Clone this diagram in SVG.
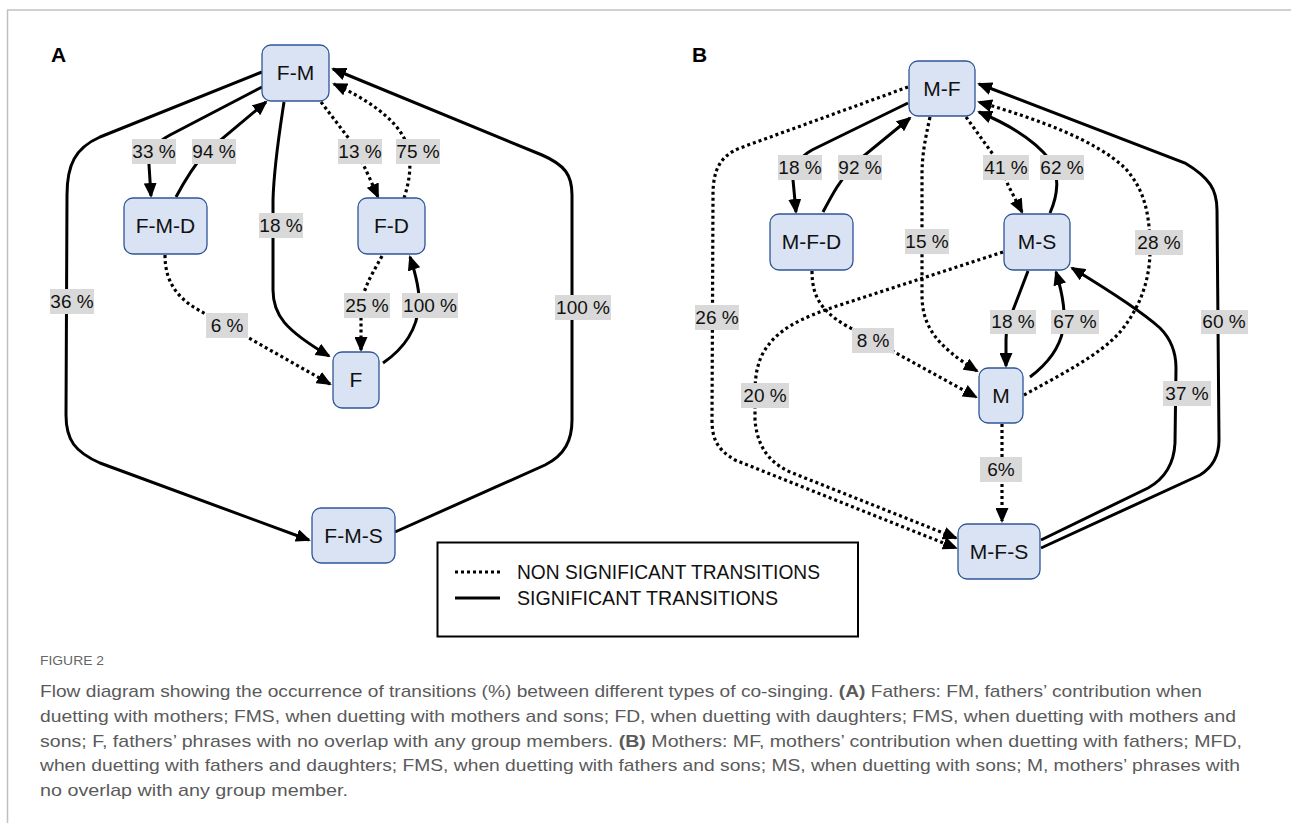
<svg xmlns="http://www.w3.org/2000/svg" width="1291" height="823" viewBox="0 0 1291 823">
<style>
.node rect{fill:#dae3f3;stroke:#2f5597;stroke-width:1.3}
.node text{font-family:"Liberation Sans",Arial,sans-serif;font-size:21px;text-anchor:middle;fill:#111}
.s{fill:none;stroke:#000;stroke-width:3;marker-end:url(#arr)}
.d{fill:none;stroke:#000;stroke-width:3.2;stroke-dasharray:3 3;marker-end:url(#arr)}
.lbl rect{fill:#d9d9d9}
.lbl text{font-family:"Liberation Sans",Arial,sans-serif;font-size:19px;text-anchor:middle;fill:#111}
.panel{font-family:"Liberation Sans",Arial,sans-serif;font-size:21px;font-weight:bold;fill:#000}
.leg{font-family:"Liberation Sans",Arial,sans-serif;font-size:20px;fill:#111}
.cap{font-family:"Liberation Sans",Arial,sans-serif;font-size:17px;fill:#5a5a5a}
.cap tspan.b{font-weight:bold}
</style>
<defs>
<marker id="arr" viewBox="0 0 15 13" refX="13" refY="6.5" markerWidth="15" markerHeight="13" markerUnits="userSpaceOnUse" orient="auto">
<path d="M0,0 L15,6.5 L0,13 z" fill="#000"/>
</marker>
</defs>
<rect width="1291" height="823" fill="#fff"/>
<g id="frame" stroke="#c0c0c0" stroke-width="1.5" fill="none">
<line x1="7" y1="10" x2="1291" y2="10"/>
<line x1="7.5" y1="10" x2="7.5" y2="823"/>
</g>
<text class="panel" x="51" y="62">A</text>
<text class="panel" x="692" y="62">B</text>

<g id="connectors">
<!-- Panel A -->
<path class="s" d="M262,72 L100,137 C75,148 67,165 67,195 L66,415 C66,440 75,452 100,463 L309,540"/>
<path class="s" d="M395,532 L545,465 C565,455 572,440 572,420 L572,195 C572,175 565,165 542,155 L333,69"/>
<path class="s" d="M262,87 L170,135 C155,143 149,152 149,165 L151,196"/>
<path class="s" d="M176,197 C184,182 192,168 205,153 L266,102"/>
<path class="s" d="M284,102 C279,135 274,165 273,200 L273,290 C273,315 285,330 329,356"/>
<path class="d" d="M321,102 L350,140 C358,152 366,170 378,197"/>
<path class="d" d="M404,198 C410,180 413,160 405,140 C395,118 365,98 334,84"/>
<path class="d" d="M382,256 C370,278 362,290 361,310 L361,350"/>
<path class="s" d="M383,363 C405,348 417,330 419,305 C420,290 416,275 410,257"/>
<path class="d" d="M165,255 C165,285 180,302 210,316 L330,384"/>
<!-- Panel B -->
<path class="d" d="M908,87 L740,148 C720,156 713,170 713,195 L712,420 C712,440 718,450 735,460 L956,548"/>
<path class="s" d="M908,103 L812,150 C798,158 793,168 793,180 L796,212"/>
<path class="s" d="M823,212 C832,195 840,180 855,163 L910,118"/>
<path class="d" d="M930,117 C925,140 922,155 922,175 L922,295 C922,325 935,345 977,371"/>
<path class="d" d="M966,117 L992,153 C1000,163 1005,175 1008,185 L1022,212"/>
<path class="s" d="M1050,213 C1058,195 1060,175 1050,160 C1035,140 1010,125 979,112"/>
<path class="d" d="M1024,395 C1060,375 1100,355 1120,332 C1140,308 1150,280 1150,250 C1150,215 1145,190 1125,168 C1095,140 1040,120 979,102"/>
<path class="s" d="M1041,548 L1200,475 C1213,467 1219,455 1219,440 L1217,210 C1217,190 1210,178 1185,163 L979,84"/>
<path class="d" d="M1003,252 L840,305 C800,318 775,330 762,355 C756,368 755,380 755,395 L755,420 C757,445 768,462 790,472 L956,538"/>
<path class="d" d="M812,271 C812,295 820,310 845,325 L976,397"/>
<path class="s" d="M1028,271 L1010,318 C1007,326 1006,332 1006,340 L1006,366"/>
<path class="s" d="M1030,377 C1050,362 1060,345 1063,330 C1066,315 1063,295 1056,272"/>
<path class="d" d="M1002,424 L1002,521"/>
<path class="s" d="M1041,540 L1148,488 C1166,478 1174,463 1175,443 L1176,368 C1176,350 1170,338 1160,328 C1140,310 1105,288 1072,268"/>
</g>

<g id="edge-labels" class="lbl">
<rect x="132" y="139" width="44" height="25"/><text x="154" y="158">33 %</text>
<rect x="192" y="139" width="44" height="25"/><text x="214" y="158">94 %</text>
<rect x="338" y="139" width="44" height="25"/><text x="360" y="158">13 %</text>
<rect x="396" y="139" width="44" height="25"/><text x="418" y="158">75 %</text>
<rect x="259" y="213" width="44" height="25"/><text x="281" y="232">18 %</text>
<rect x="50" y="289" width="44" height="25"/><text x="72" y="308">36 %</text>
<rect x="344" y="293" width="46" height="25"/><text x="367" y="312">25 %</text>
<rect x="402" y="293" width="56" height="25"/><text x="430" y="312">100 %</text>
<rect x="555" y="295" width="56" height="25"/><text x="583" y="314">100 %</text>
<rect x="206" y="313" width="42" height="25"/><text x="227" y="332">6 %</text>

<rect x="778" y="155" width="44" height="25"/><text x="800" y="174">18 %</text>
<rect x="838" y="155" width="44" height="25"/><text x="860" y="174">92 %</text>
<rect x="983" y="155" width="46" height="25"/><text x="1006" y="174">41 %</text>
<rect x="1040" y="155" width="44" height="25"/><text x="1062" y="174">62 %</text>
<rect x="905" y="229" width="44" height="25"/><text x="927" y="248">15 %</text>
<rect x="1135" y="230" width="48" height="25"/><text x="1159" y="249">28 %</text>
<rect x="695" y="305" width="44" height="25"/><text x="717" y="324">26 %</text>
<rect x="1201" y="310" width="47" height="24"/><text x="1224" y="328">60 %</text>
<rect x="852" y="328" width="42" height="25"/><text x="873" y="347">8 %</text>
<rect x="990" y="310" width="46" height="24"/><text x="1013" y="328">18 %</text>
<rect x="1051" y="310" width="48" height="24"/><text x="1075" y="328">67 %</text>
<rect x="741" y="383" width="48" height="25"/><text x="765" y="402">20 %</text>
<rect x="1163" y="381" width="48" height="25"/><text x="1187" y="400">37 %</text>
<rect x="980" y="457" width="42" height="25"/><text x="1001" y="476">6%</text>
</g>

<g id="node-FM" class="node"><rect x="262" y="45" width="67" height="56" rx="9"/><text x="295.5" y="80">F-M</text></g>
<g id="node-FMD" class="node"><rect x="124" y="198" width="83" height="56" rx="9"/><text x="165.5" y="233">F-M-D</text></g>
<g id="node-FD" class="node"><rect x="358" y="198" width="67" height="56" rx="9"/><text x="391.5" y="233">F-D</text></g>
<g id="node-F" class="node"><rect x="333" y="352" width="46" height="56" rx="9"/><text x="356" y="387">F</text></g>
<g id="node-FMS" class="node"><rect x="312" y="508" width="83" height="55" rx="9"/><text x="353.5" y="543">F-M-S</text></g>

<g id="node-MF" class="node"><rect x="909" y="61" width="66" height="55" rx="9"/><text x="942" y="96">M-F</text></g>
<g id="node-MFD" class="node"><rect x="770" y="214" width="83" height="56" rx="9"/><text x="811.5" y="249">M-F-D</text></g>
<g id="node-MS" class="node"><rect x="1004" y="214" width="66" height="56" rx="9"/><text x="1037" y="249">M-S</text></g>
<g id="node-M" class="node"><rect x="979" y="368" width="44" height="55" rx="9"/><text x="1001" y="403">M</text></g>
<g id="node-MFS" class="node"><rect x="958" y="524" width="82" height="55" rx="9"/><text x="999" y="559">M-F-S</text></g>

<g id="legend">
<rect x="437.5" y="542.5" width="420.5" height="94" fill="none" stroke="#000" stroke-width="2"/>
<line x1="455" y1="572" x2="500" y2="572" stroke="#000" stroke-width="3.2" stroke-dasharray="3 3"/>
<line x1="455" y1="598" x2="500" y2="598" stroke="#000" stroke-width="3"/>
<text class="leg" x="517" y="579" textLength="303" lengthAdjust="spacingAndGlyphs">NON SIGNIFICANT TRANSITIONS</text>
<text class="leg" x="517" y="605" textLength="261" lengthAdjust="spacingAndGlyphs">SIGNIFICANT TRANSITIONS</text>
</g>

<g id="caption">
<text x="40" y="665" font-family="Liberation Sans, Arial, sans-serif" font-size="13" fill="#666" textLength="64" lengthAdjust="spacingAndGlyphs">FIGURE 2</text>
<text class="cap" x="40" y="697" textLength="1162" lengthAdjust="spacingAndGlyphs">Flow diagram showing the occurrence of transitions (%) between different types of co-singing. <tspan class="b">(A)</tspan> Fathers: FM, fathers’ contribution when</text>
<text class="cap" x="40" y="722" textLength="1196" lengthAdjust="spacingAndGlyphs">duetting with mothers; FMS, when duetting with mothers and sons; FD, when duetting with daughters; FMS, when duetting with mothers and</text>
<text class="cap" x="40" y="747" textLength="1202" lengthAdjust="spacingAndGlyphs">sons; F, fathers’ phrases with no overlap with any group members. <tspan class="b">(B)</tspan> Mothers: MF, mothers’ contribution when duetting with fathers; MFD,</text>
<text class="cap" x="40" y="771" textLength="1200" lengthAdjust="spacingAndGlyphs">when duetting with fathers and daughters; FMS, when duetting with fathers and sons; MS, when duetting with sons; M, mothers’ phrases with</text>
<text class="cap" x="40" y="796" textLength="308" lengthAdjust="spacingAndGlyphs">no overlap with any group member.</text>
</g>
</svg>
